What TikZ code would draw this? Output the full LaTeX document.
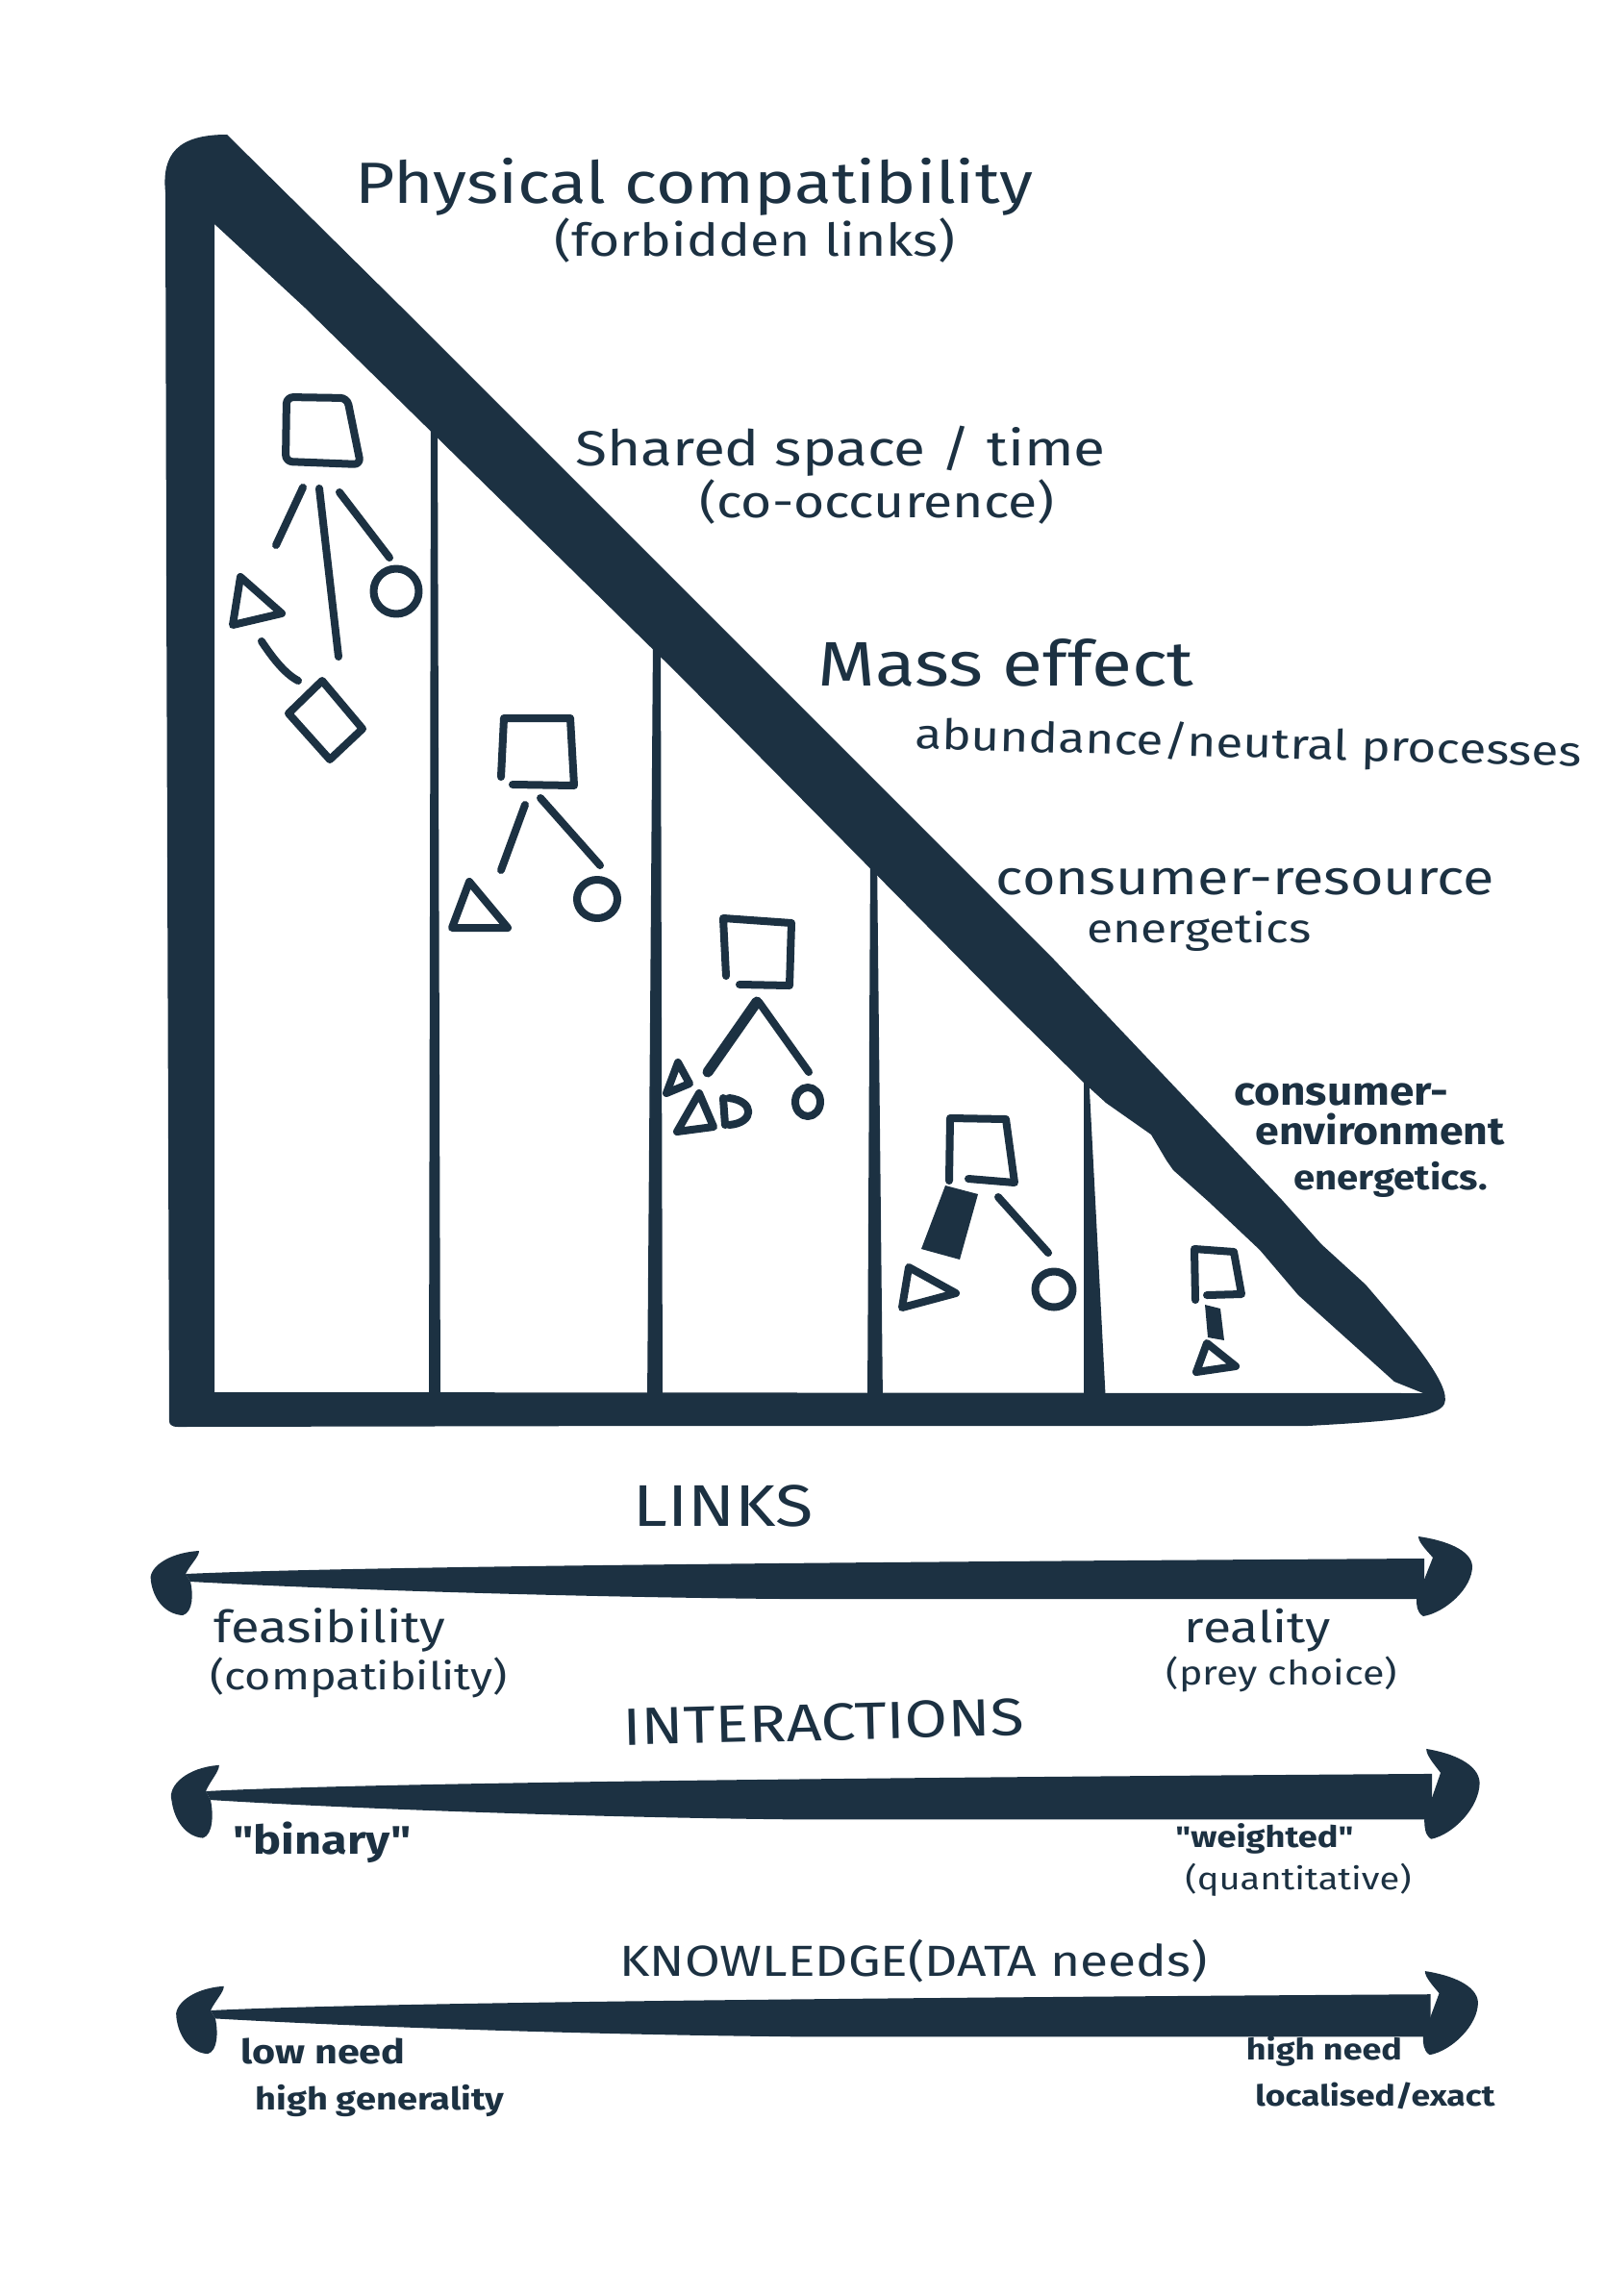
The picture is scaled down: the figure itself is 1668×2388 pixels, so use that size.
\documentclass[tikz,border=0pt]{standalone}
\usepackage{fontspec}
\setmainfont{Fira Sans}
\newfontfamily\qfont[Ligatures=TeXOff]{Fira Sans}
\usepackage{graphicx}
\definecolor{ink}{RGB}{28,49,66}
% text squeezed to a given width (mm), optionally flattened vertically
\newcommand\fitw[3][0.85]{\scalebox{1}[#1]{\resizebox{#2mm}{!}{#3}}}
\tikzset{
  pen/.style={draw=ink, line width=0.8mm, line cap=round, line join=round},
  lbl/.style={text=ink, inner sep=0pt, anchor=base},
  twoway/.pic={
    % tapered shaft
    \fill[ink] (0,0) .. controls (150,-7) and (600,-12) .. (1288,-16)
      -- (1288,26) -- (620,26) .. controls (400,24) and (150,16) .. (5,8) -- cycle;
    % left hooked head
    \fill[ink] (14,-24) .. controls (-20,-22) and (-40,-5) .. (-36,8)
      .. controls (-33,28) and (-20,42) .. (-3,43)
      .. controls (8,40) and (8,20) .. (5,8) -- (0,0)
      .. controls (5,-10) and (14,-18) .. (14,-24) -- cycle;
    % right hooked head
    \fill[ink] (1282,-39) .. controls (1310,-35) and (1337,-25) .. (1338,-8)
      .. controls (1338,15) and (1310,40) .. (1287,44)
      .. controls (1280,40) and (1280,32) .. (1280,26) -- (1297,-17)
      .. controls (1290,-25) and (1282,-33) .. (1282,-39) -- cycle;
  }
}
\begin{document}
\begin{tikzpicture}[x=0.01cm, y=-0.01cm]
\useasboundingbox (0,0) rectangle (1668,2388);
\fill[white] (0,0) rectangle (1668,2388);

% ---- vertical dividers between the panels
\fill[ink] (448,440) -- (455,440) -- (458,1460) -- (446,1460) -- cycle;
\fill[ink] (679,665) -- (687,665) -- (689,1460) -- (673,1460) -- cycle;
\fill[ink] (905,890) -- (912,890) -- (918,1460) -- (902,1460) -- cycle;
\fill[ink] (1127,1115) -- (1132,1115) -- (1150,1460) -- (1127,1460) -- cycle;

% ---- heavy triangular frame
\fill[ink, even odd rule]
  (176,1478) -- (173,600) -- (172,200) .. controls (168,160) and (185,140) .. (236,140)
  -- (416,318) -- (1096,998) -- (1333,1248) -- (1374,1294) -- (1420,1336)
  .. controls (1462,1385) and (1510,1440) .. (1502,1460)
  .. controls (1496,1474) and (1450,1478) .. (1360,1483)
  -- (700,1483) -- (185,1484) .. controls (178,1484) and (176,1481) .. (176,1478) -- cycle
  (223,233) -- (317,320) -- (704,700) -- (1050,1050) -- (1128,1127) -- (1150,1147)
  -- (1197,1180) -- (1213,1207) -- (1220,1217) -- (1257,1250) -- (1310,1300)
  -- (1350,1347) -- (1450,1437) -- (1480,1449) -- (223,1448) -- cycle;

% ---- panel 1: physical compatibility web
\draw[pen, rounded corners=2] (298,413) -- (361,414) -- (375,483) -- (297,480) -- cycle;
\draw[pen] (315,507) -- (287,567);
\draw[pen] (332,508) -- (352,683);
\draw[pen] (353,512) -- (405,580);
\draw[pen] (412,615) circle (23.5);
\draw[pen] (250,600) -- (293,638) -- (242,650) -- cycle;
\draw[pen] (272,667) .. controls (282,682) and (295,700) .. (310,708);
\draw[pen] (335,708) -- (377,758) -- (343,790) -- (300,742) -- cycle;

% ---- panel 2
\draw[pen] (533,816) -- (597,817) -- (593,747) -- (524,747) -- (521,808);
\draw[pen] (546,837) -- (521,905);
\draw[pen] (562,830) -- (624,900);
\draw[pen] (488,917) -- (528,965) -- (470,965) -- cycle;
\draw[pen] (621,935) ellipse [x radius=21, y radius=20];

% ---- panel 3
\draw[pen] (769,1024) -- (821,1025) -- (823,960) -- (752,955) -- (755,1015);
\draw[pen, line width=1.1mm] (787,1042) -- (736,1115);
\draw[pen] (789,1042) -- (841,1115);
\draw[pen] (705,1105) -- (717,1127) -- (693,1137) -- cycle;
\draw[pen] (727,1137) -- (742,1172) -- (704,1177) -- cycle;
\draw[pen] (752,1142) -- (754,1170)
           (758,1142) .. controls (785,1145) and (785,1168) .. (758,1170);
\draw[pen] (840,1146) ellipse [x radius=13, y radius=15];

% ---- panel 4
\draw[pen] (1007,1226) -- (1055,1230) -- (1046,1164) -- (988,1163) -- (987,1228);
\fill[ink] (983,1233) -- (1017,1242) -- (998,1310) -- (958,1299) -- cycle;
\draw[pen] (1038,1245) -- (1090,1303);
\draw[pen] (945,1318) -- (994,1345) -- (938,1360) -- cycle;
\draw[pen] (1096,1341) ellipse [x radius=19.5, y radius=18.5];

% ---- panel 5
\draw[pen] (1255,1347) -- (1291,1346) -- (1283,1302) -- (1242,1299) -- (1243,1352);
\fill[ink] (1253,1357) -- (1269,1361) -- (1273,1394) -- (1256,1391) -- cycle;
\draw[pen] (1255,1397) -- (1285,1421) -- (1244,1427) -- cycle;

% ---- level labels along the hypotenuse
\node[lbl] (physical) at (722,212) {\fitw{70.4}{Physical compatibility}};
\node[lbl] (forbidden) at (785,266) {\fitw{41.7}{(forbidden links)}};
\node[lbl] (shared) at (874,484) {\fitw{55.1}{Shared space / time}};
\node[lbl] (cooccur) at (912,538) {\fitw{36.9}{(co-occurence)}};
\node[lbl] (mass) at (1046,713) {\fitw{39.1}{Mass effect}};
\node[lbl, rotate=-1.5] (abund) at (1298,788) {\fitw{69.3}{abundance/neutral processes}};
\node[lbl] (consres) at (1295,930) {\fitw{51.8}{consumer-resource}};
\node[lbl] (energa) at (1247,980) {\fitw{23.3}{energetics}};
\node[lbl] (consenv) at (1395,1149) {\fitw[0.9]{22.3}{\bfseries consumer-}};
\node[lbl] (environ) at (1435,1190) {\fitw[0.9]{25.9}{\bfseries environment}};
\node[lbl] (energb) at (1446,1237) {\fitw[0.9]{20.1}{\bfseries energetics.}};

% ---- scales below the triangle
\node[lbl] (links) at (752,1587) {\fitw{18.7}{LINKS}};
\pic (linksarrow) at (193,1637) {twoway};
\node[lbl] (feas) at (343,1708) {\fitw{24.1}{feasibility}};
\node[lbl] (compat) at (373,1757) {\fitw{30.9}{(compatibility)}};
\node[lbl] (reality) at (1308,1708) {\fitw{15.2}{reality}};
\node[lbl] (prey) at (1333,1752) {\fitw{24.0}{(prey choice)}};

\node[lbl, rotate=1.5] (inter) at (857,1810) {\fitw{41.6}{INTERACTIONS}};
\pic[xscale=0.99, yscale=1.13] (interarrow) at (214,1863) {twoway};
\node[lbl] (binary) at (335,1928) {\fitw{18.5}{\qfont\bfseries "binary"}};
\node[lbl] (weighted) at (1315,1921) {\fitw{18.5}{\qfont\bfseries "weighted"}};
\node[lbl] (quant) at (1350,1965) {\fitw{23.5}{(quantitative)}};

\node[lbl] (know) at (950,2055) {\fitw{61.1}{KNOWLEDGE(DATA needs)}};
\pic[xscale=0.985, yscale=1.05] (knowarrow) at (219,2091) {twoway};
\node[lbl] (lowneed) at (336,2146) {\fitw{17.1}{\bfseries low need}};
\node[lbl] (highgen) at (395,2194) {\fitw{25.9}{\bfseries high generality}};
\node[lbl] (highneed) at (1377,2142) {\fitw{16.2}{\bfseries high need}};
\node[lbl] (localised) at (1430,2190) {\fitw{24.9}{\bfseries localised/exact}};
\end{tikzpicture}
\end{document}
